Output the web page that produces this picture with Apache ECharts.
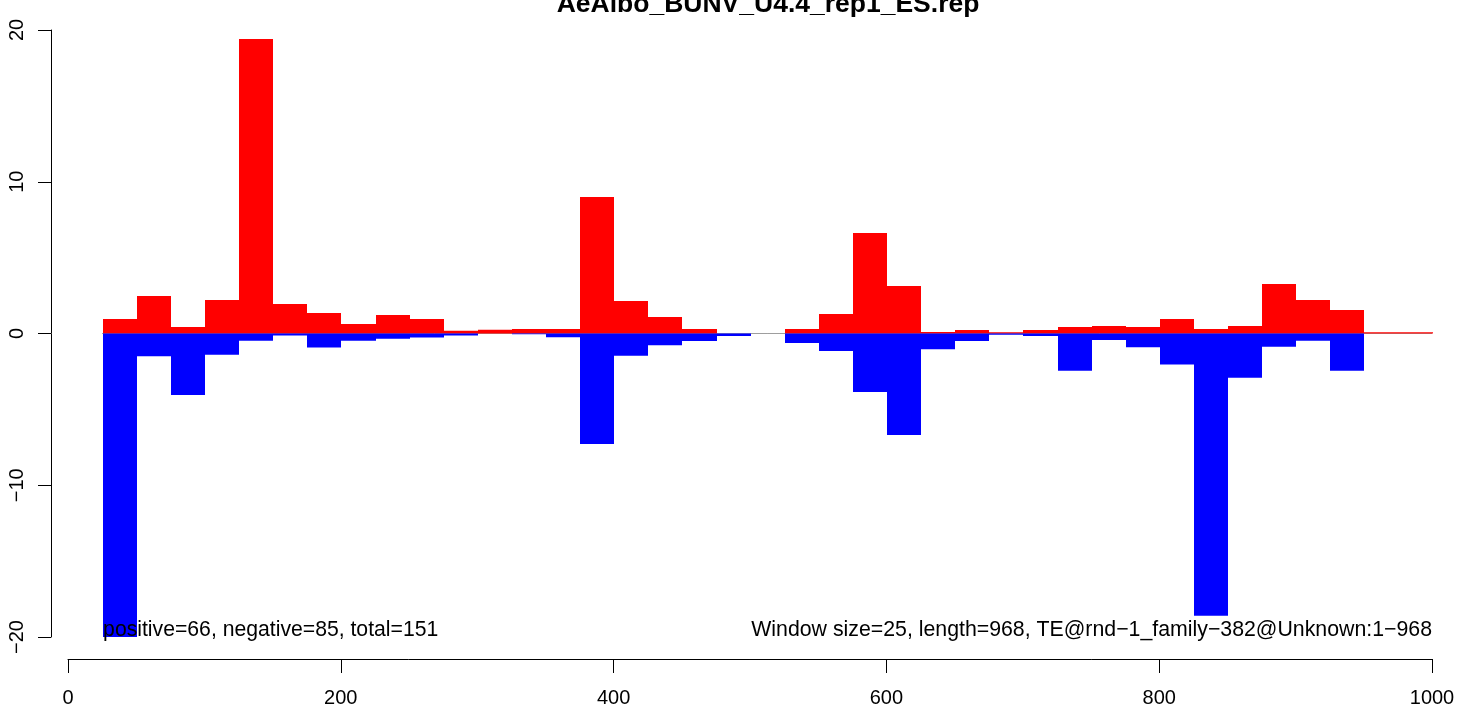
<!DOCTYPE html>
<html>
<head>
<meta charset="utf-8">
<script src="https://cdn.jsdelivr.net/npm/echarts@6/dist/echarts.min.js"></script>
<style>
html,body{margin:0;padding:0;background:#fff;}
#chart{width:1470px;height:711px;}
</style>
</head>
<body>
<div id="chart"></div>
<script>
// Window start positions (window size = 25)
const windowStart = [25,50,75,100,125,150,175,200,225,250,275,300,325,350,375,400,425,450,475,500,525,550,575,600,625,650,675,700,725,750,775,800,825,850,875,900,925,950,975];
const windowSize = 25;
// Positive-strand values per window
const positiveValues = [0.95,2.47,0.43,2.2,19.4,1.94,1.35,0.63,1.22,0.95,0.18,0.25,0.3,0.3,9.0,2.14,1.08,0.3,0,0,0.3,1.28,6.62,3.13,0.1,0.23,0.08,0.23,0.43,0.5,0.43,0.95,0.3,0.49,3.26,2.2,1.55,0.08,0.08];
// Negative-strand values per window
const negativeValues = [-20,-1.5,-4.05,-1.4,-0.47,-0.14,-0.93,-0.47,-0.34,-0.27,-0.13,0,-0.05,-0.25,-7.28,-1.46,-0.77,-0.5,-0.17,0,-0.63,-1.15,-3.85,-6.69,-1.03,-0.5,-0.08,-0.17,-2.45,-0.43,-0.9,-2.05,-18.6,-2.91,-0.87,-0.47,-2.45,0,0];
const xTicks = [0,200,400,600,800,1000];
const yTicks = [-20,-10,0,10,20];
const titleText = 'AeAlbo_BUNV_U4.4_rep1_ES.rep';
const leftNote = 'positive=66, negative=85, total=151';
const rightNote = 'Window size=25, length=968, TE@rnd\u22121_family\u2212382@Unknown:1\u2212968';

const FONT = '"Liberation Sans", Arial, Helvetica, sans-serif';

function mkData(vals){
  return windowStart.map((s,i)=>[s, s+windowSize, vals[i]]);
}
function renderRect(color){
  return function(params, api){
    const p0 = api.coord([api.value(0), 0]);
    const p1 = api.coord([api.value(1), api.value(2)]);
    const x0 = Math.round(Math.min(p0[0], p1[0]) + 0.6);
    const x1 = Math.round(Math.max(p0[0], p1[0]) + 0.6);
    const y0 = Math.min(p0[1], p1[1]);
    const y1 = Math.max(p0[1], p1[1]);
    return {
      type:'rect',
      shape:{x:x0, y:y0, width:x1-x0, height:y1-y0},
      style:{fill:color}
    };
  };
}

const chart = echarts.init(document.getElementById('chart'), null, {renderer:'canvas'});
chart.setOption({
  animation:false,
  backgroundColor:'#ffffff',
  grid:{left:68, right:38, top:30, bottom:74, containLabel:false},
  xAxis:{
    type:'value', min:0, max:1000, interval:200,
    offset:22,
    axisLine:{onZero:false, lineStyle:{color:'#000', width:1}},
    axisTick:{show:true, length:14, lineStyle:{color:'#000', width:1}},
    axisLabel:{color:'#000', fontSize:20, fontFamily:FONT, margin:29,
      formatter:function(v){return xTicks.indexOf(v)>=0 ? String(v) : '';}},
    splitLine:{show:false}
  },
  yAxis:{
    type:'value', min:-20, max:20, interval:10,
    offset:17,
    axisLine:{show:true, onZero:false, lineStyle:{color:'#000', width:1}},
    axisTick:{show:true, length:13, lineStyle:{color:'#000', width:1}},
    axisLabel:{color:'#000', fontSize:20, fontFamily:FONT, rotate:90, margin:24,
      formatter:function(v){return yTicks.indexOf(v)>=0 ? String(v).replace('-', '\u2212') : '';}},
    splitLine:{show:false}
  },
  series:[
    {
      type:'line', data:[[25,0],[1000,0]], symbol:'none', silent:true,
      lineStyle:{color:'#9e9e9e', width:1}, z:1
    },
    {
      type:'custom', renderItem:renderRect('#ff0000'), data:mkData(positiveValues),
      encode:{x:[0,1], y:2}, z:2
    },
    {
      type:'custom', renderItem:renderRect('#0000ff'), data:mkData(negativeValues),
      encode:{x:[0,1], y:2}, z:3
    }
  ]
});

function placeTexts(){
  const bl = chart.convertToPixel({gridIndex:0}, [windowStart[0], -20]);
  const br = chart.convertToPixel({gridIndex:0}, [1000, -20]);
  const tc = chart.convertToPixel({gridIndex:0}, [(windowStart[0]+1000)/2, 20]);
  chart.setOption({
    graphic:[
      {type:'text', x:tc[0]+1, y:18, z:10,
        style:{text:titleText, fill:'#000', font:'bold 26.5px '+FONT, textAlign:'center', textVerticalAlign:'bottom'}},
      {type:'text', x:bl[0]+1, y:bl[1]+4, z:10,
        style:{text:leftNote, fill:'#000', font:'21.2px '+FONT, textAlign:'left', textVerticalAlign:'bottom'}},
      {type:'text', x:br[0], y:br[1]+4, z:10,
        style:{text:rightNote, fill:'#000', font:'21.3px '+FONT, textAlign:'right', textVerticalAlign:'bottom'}}
    ]
  });
}
placeTexts();
</script>
</body>
</html>
